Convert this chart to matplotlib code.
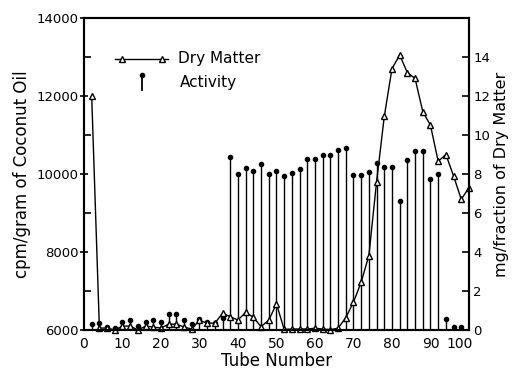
import matplotlib
matplotlib.use("Agg")
import matplotlib.pyplot as plt
import matplotlib.transforms as mtransforms
from matplotlib.ticker import MultipleLocator

plt.rcParams["font.family"] = ["DejaVu Sans"]

# ---- data ----
act_tubes = list(range(2, 100, 2))
activity = [6160, 6175, 6070, 6040, 6200, 6260, 6100, 6200, 6260, 6200,
            6420, 6420, 6260, 6160, 6270, 6200, 6185, 6300,
            10430, 9990, 10150, 10070, 10250, 9990, 10070, 9940, 10020, 10120,
            10380, 10380, 10480, 10480, 10610, 10660, 9970, 9970, 10040, 10280,
            10180, 10180, 9300, 10370, 10580, 10580, 9880, 10010, 6290, 6070, 6070]

dm_tubes = list(range(2, 101, 2))
dry_matter = [12.0, 0.1, 0.1, 0.0, 0.2, 0.2, 0.0, 0.2, 0.15, 0.1,
              0.3, 0.3, 0.15, 0.05, 0.5, 0.35, 0.35, 0.86, 0.68, 0.51,
              0.91, 0.65, 0.17, 0.51, 1.34, 0.03, 0.05, 0.05, 0.05, 0.09,
              0.05, 0.02, 0.09, 0.63, 1.43, 2.45, 3.82, 7.6, 10.95, 13.4,
              14.1, 13.2, 12.9, 11.2, 10.5, 8.65, 9.0, 7.9, 6.7, 7.3]

x_ticks = [0, 10, 20, 30, 40, 50, 60, 70, 80, 90, 100]
left_ticks = [6000, 8000, 10000, 12000, 14000]
right_ticks = [0, 2, 4, 6, 8, 10, 12, 14]

fig = plt.figure(figsize=(5.14, 3.72), dpi=100)
ax = fig.add_axes([0.1634, 0.1129, 0.749, 0.8387])
ax2 = ax.twinx()

# activity: stems from the baseline with a dot on top
ax.vlines(act_tubes, 6000, activity, color="black", linewidth=1.0)
ax.plot(act_tubes, activity, "o", color="black", markersize=3.0)

# dry matter: line with open triangles
ax2.plot(dm_tubes, dry_matter, color="black", linewidth=1.0, marker="^",
         markersize=4.6, markerfacecolor="white", markeredgecolor="black",
         markeredgewidth=1.0, clip_on=False)

ax.set_xlim(0, 100)
ax.set_ylim(6000, 14000)
ax2.set_ylim(0, 16)

ax.set_xticks(x_ticks)
ax.set_yticks(left_ticks)
ax.yaxis.set_minor_locator(MultipleLocator(1000))
ax2.set_yticks(right_ticks)

ax.tick_params(axis="x", direction="in", length=0, labelsize=10, pad=5)
ax.tick_params(axis="y", which="major", direction="inout", length=6,
               width=1.2, labelsize=9.5, pad=1)
ax.tick_params(axis="y", which="minor", direction="in", length=5, width=1.2)
ax2.tick_params(axis="y", direction="in", length=5, width=1.2,
                labelsize=9.5, pad=3)

# the "100" label sits a little left of the corner, as in the original
shift = mtransforms.ScaledTranslation(-7 / 72, 0, fig.dpi_scale_trans)
last = ax.get_xticklabels()[-1]
last.set_transform(last.get_transform() + shift)

for a in (ax, ax2):
    for s in a.spines.values():
        s.set_linewidth(1.5)

ax.set_xlabel("Tube Number", fontsize=12, labelpad=1)
ax.set_ylabel("cpm/gram of Coconut Oil", fontsize=12, labelpad=4)
ax2.set_ylabel("mg/fraction of Dry Matter", fontsize=11.5, labelpad=3)

# legend drawn by hand, top left
ax.plot([0.081, 0.218], [0.869, 0.869], transform=ax.transAxes,
        color="black", linewidth=1.0)
ax.plot([0.1, 0.203], [0.869, 0.869], "^", transform=ax.transAxes,
        markersize=4.6, markerfacecolor="white", markeredgecolor="black")
ax.text(0.243, 0.869, "Dry Matter", transform=ax.transAxes,
        fontsize=11, va="center", ha="left")
ax.plot([0.151, 0.151], [0.769, 0.817], transform=ax.transAxes,
        color="black", linewidth=1.3)
ax.plot([0.151], [0.817], "o", transform=ax.transAxes, color="black",
        markersize=3.0)
ax.text(0.249, 0.792, "Activity", transform=ax.transAxes,
        fontsize=11, va="center", ha="left")

fig.savefig("out.png", dpi=100, facecolor="white")
